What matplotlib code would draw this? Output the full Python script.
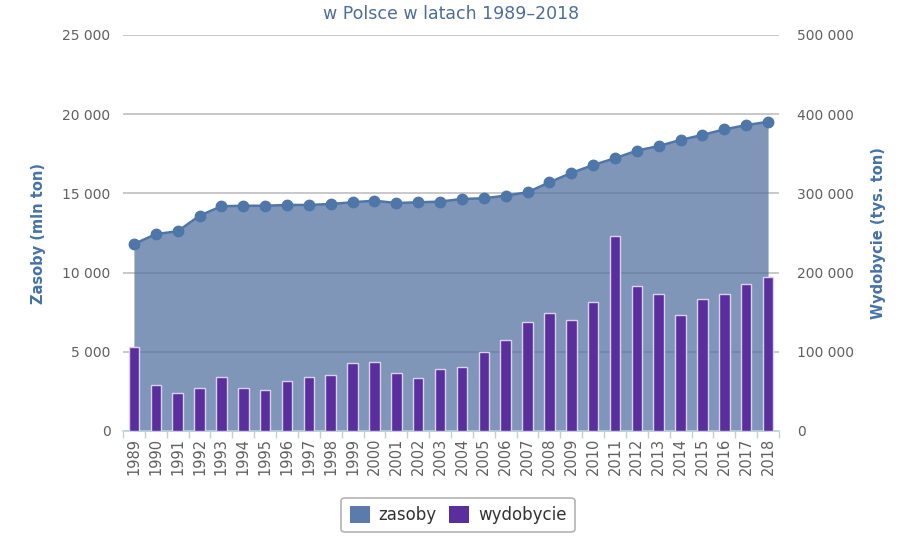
import numpy as np
import matplotlib.pyplot as plt
from matplotlib.patches import Patch
from matplotlib.ticker import FuncFormatter

years = [str(y) for y in range(1989, 2019)]
# zasoby (mln ton) - left axis
zasoby = [11800, 12430, 12610, 13590, 14190, 14220, 14220, 14270, 14270, 14330,
          14440, 14540, 14390, 14440, 14480, 14650, 14690, 14860, 15070, 15700,
          16290, 16790, 17220, 17700, 17990, 18375, 18690, 19040, 19310, 19520]
# wydobycie (tys. ton) - right axis
wydobycie = [106400, 58100, 48000, 53900, 68600, 53900, 52200, 62800, 68600, 70700,
             85500, 86700, 72900, 66500, 78300, 80400, 99400, 115300, 138000, 148600,
             140200, 162500, 245800, 183500, 173000, 146800, 166700, 173000, 185600, 194800]

area_col = '#5473a2'
line_col = '#4e76a8'
bar_col = '#5b2e9e'
label_col = '#4572a7'
tick_col = '#606060'


def thousands(v, pos):
    return '{:,.0f}'.format(v).replace(',', ' ')


fig = plt.figure(figsize=(9.22, 5.39), dpi=100)
ax = fig.add_axes([123 / 922, 108 / 539, 656 / 922, 396 / 539])
x = np.arange(len(years))

ax.fill_between(x, 0, zasoby, color=area_col, alpha=0.75, lw=0, zorder=2)
ax.plot(x, zasoby, '-o', color=line_col, lw=1.8, ms=7.5, zorder=3)
ax.set_ylim(0, 25000)
ax.set_yticks(range(0, 25001, 5000))
ax.yaxis.set_major_formatter(FuncFormatter(thousands))
ax.grid(axis='y', color='#c4c4c4', lw=1.3, zorder=1)
ax.set_axisbelow(True)
ax.set_xlim(-0.5, len(years) - 0.5)
ax.set_xticks(x)
ax.set_xticklabels(years, rotation=90, fontsize=10.5, color=tick_col)
ax.set_xticks(np.arange(-0.5, len(years)), minor=True)
ax.tick_params(axis='x', which='major', length=0, pad=5)
ax.tick_params(axis='x', which='minor', length=5, color='#c0d0e0', width=1)
ax.tick_params(axis='y', length=0, pad=9, labelsize=10, labelcolor=tick_col)
for s in ['top', 'left', 'right']:
    ax.spines[s].set_visible(False)
ax.spines['bottom'].set_color('#c0d0e0')
ax.spines['bottom'].set_linewidth(1.2)
ax.set_ylabel('Zasoby (mln ton)', fontsize=10.5, fontweight='bold', color=label_col, labelpad=12)

ax2 = ax.twinx()
ax2.bar(x, wydobycie, width=0.48, color=bar_col, edgecolor='#d9d2ee', lw=1.0, zorder=4)
ax2.set_ylim(0, 500000)
ax2.set_yticks(range(0, 500001, 100000))
ax2.yaxis.set_major_formatter(FuncFormatter(thousands))
ax2.tick_params(axis='y', length=0, pad=13, labelsize=10, labelcolor=tick_col)
for s in ['top', 'left', 'right', 'bottom']:
    ax2.spines[s].set_visible(False)
ax2.set_ylabel('Wydobycie (tys. ton)', fontsize=10.5, fontweight='bold', color=label_col,
               rotation=90, labelpad=12)

fig.text(451 / 922, 1 - 14 / 539, 'w Polsce w latach 1989–2018', ha='center', va='center',
         fontsize=12.5, color='#4d6d9a')

handles = [Patch(facecolor='#5a7bab', edgecolor='none', label='zasoby'),
           Patch(facecolor=bar_col, edgecolor='none', label='wydobycie')]
leg = fig.legend(handles=handles, loc='center', bbox_to_anchor=(458 / 922, 1 - 515 / 539),
                 ncol=2, frameon=True, fontsize=12, handlelength=1.2, handleheight=1.2,
                 columnspacing=0.8, handletextpad=0.5, borderpad=0.5)
leg.get_frame().set_edgecolor('#a0a0a0')
leg.get_frame().set_linewidth(1.2)
for t in leg.get_texts():
    t.set_color('#333333')

fig.savefig('out.png', dpi=100)
